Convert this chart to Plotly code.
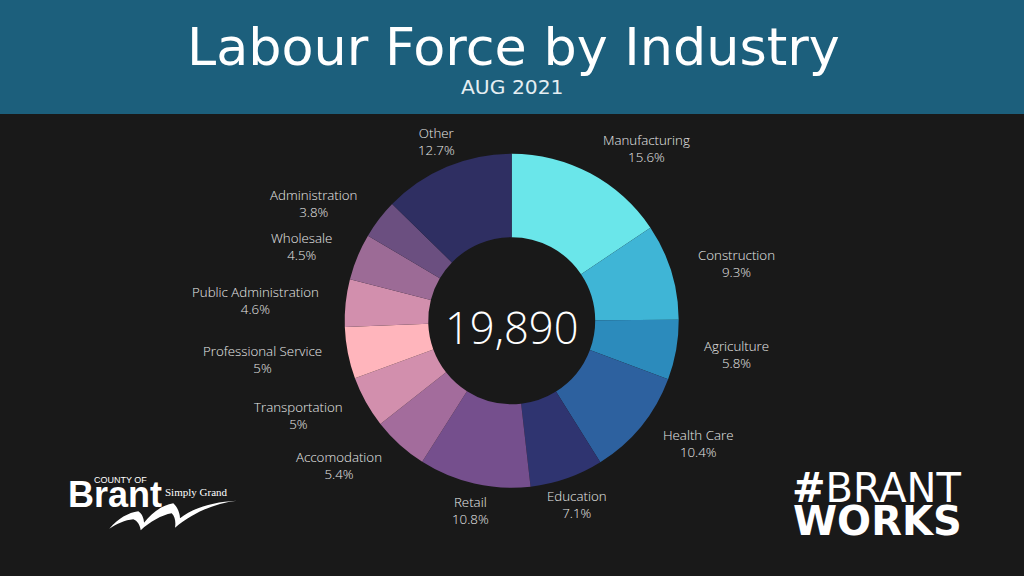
import plotly.graph_objects as go

industries = ["Manufacturing", "Construction", "Agriculture", "Health Care", "Education", "Retail",
              "Accomodation", "Transportation", "Professional Service", "Public Administration",
              "Wholesale", "Administration", "Other"]
shares = [15.6, 9.3, 5.8, 10.4, 7.1, 10.8, 5.4, 5, 5, 4.6, 4.5, 3.8, 12.7]
colors = ["#6AE6EA", "#3FB5D6", "#2C8BBC", "#2D619F", "#2F3470", "#754F8D", "#A36C9C",
          "#D28FAD", "#FFB5BC", "#D28FAD", "#9C6B96", "#6B4F80", "#2F2F62"]
label_x = [646, 736, 736, 698, 577, 470, 339, 298, 262, 255, 301, 313, 436]
label_y = [148.5, 263.5, 354.5, 443.5, 504.5, 510.5, 465.5, 415.5, 359.5, 300.5, 246.5, 203, 141.5]

W, H = 1024, 576
cx, cy, R = 511.7, 320.7, 167

fig = go.Figure(go.Pie(
    values=shares, labels=industries, sort=False, direction="clockwise", rotation=0, hole=0.5,
    marker=dict(colors=colors, line=dict(width=0)), textinfo="none", showlegend=False, hoverinfo="label+percent",
    domain=dict(x=[(cx - R) / W, (cx + R) / W], y=[1 - (cy + R) / H, 1 - (cy - R) / H]),
))

def fmt(v):
    return f"{v:g}%"

ann = []
def text(x, y, s, size, color="#FFFFFF", family="Open Sans", weight=None, anchor="center"):
    f = dict(size=size, color=color, family=family)
    if weight:
        f["weight"] = weight
    ann.append(dict(x=x, y=y, xref="x", yref="y", text=s, showarrow=False, font=f,
                    xanchor=anchor, yanchor="middle", align="center"))

for n, v, x, y in zip(industries, shares, label_x, label_y):
    text(x, y, f"{n}<br>{fmt(v)}", 13.3, "#E8E8E8", weight=300)

text(513, 46, "Labour Force by Industry", 52.4, family="DejaVu Sans")
text(512, 87, "AUG 2021", 20.3, "#E4EEF2", family="DejaVu Sans")
text(512, 327, "19,890", 43.5, weight=300)

text(66, 494, "Brant", 36, family="Liberation Sans", weight=700, anchor="left")
text(92, 480, "COUNTY OF", 9, family="Liberation Sans", anchor="left")
text(163, 492, "Simply Grand", 11, family="Liberation Serif", anchor="left")

text(876, 488, "<b>#</b>BRANT", 40, family="DejaVu Sans")
text(877, 521, "WORKS", 40, family="DejaVu Sans", weight=700)

def zp(pts):
    return [(40 + x / 3, 450 + y / 3) for x, y in pts]

sw = zp([(208,236),(235,205),(265,188),(295,184),(305,190),(312,205),(312,218),(335,190),(365,165),(400,160),
         (412,170),(420,190),(420,205),(455,175),(520,155),(590,152),(530,160),(470,180),(405,233),(408,215),
         (405,200),(395,190),(365,195),(330,215),(302,241),(300,225),(292,212),(280,208),(255,210),(230,222),(208,236)])
path = f"M{sw[0][0]:.1f},{sw[0][1]:.1f}"
for i in range(1, len(sw), 3):
    path += " C" + " ".join(f"{a:.1f},{b:.1f}" for a, b in sw[i:i + 3])
path += " Z"

fig.update_layout(
    width=None, height=None, autosize=True,
    margin=dict(l=0, r=0, t=0, b=0),
    paper_bgcolor="#191919", plot_bgcolor="#191919",
    xaxis=dict(range=[0, W], visible=False, fixedrange=True),
    yaxis=dict(range=[H, 0], visible=False, fixedrange=True),
    annotations=ann,
    shapes=[
        dict(type="rect", xref="x", yref="y", x0=0, x1=W, y0=0, y1=114, fillcolor="#1C5F7C", line_width=0, layer="below"),
        dict(type="path", xref="x", yref="y", path=path, fillcolor="#FFFFFF", line_width=0),
    ],
)
fig.write_html("out.html", config=dict(displayModeBar=False), default_width="100vw", default_height="100vh",
               post_script="document.body.style.margin='0';document.body.style.background='#191919';window.dispatchEvent(new Event('resize'));")
